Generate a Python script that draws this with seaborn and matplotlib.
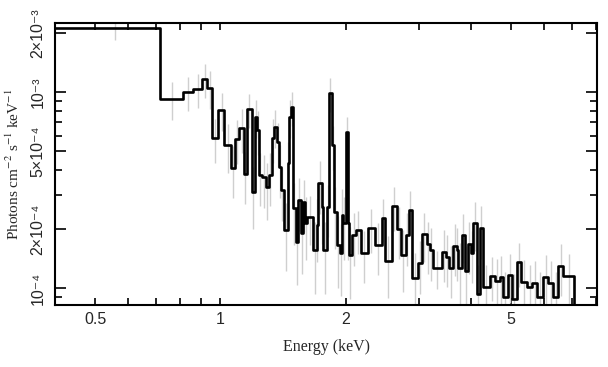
import matplotlib
matplotlib.use('Agg')
import matplotlib.pyplot as plt
import numpy as np
import pandas as pd
import seaborn as sns

# bin edges (keV)
edges = [0.4, 0.7166, 0.8144, 0.8608, 0.9050, 0.9304, 0.9566, 0.9890, 1.0225, 1.0629,
         1.0867, 1.1111, 1.1361, 1.1552, 1.1877, 1.2076, 1.2211, 1.2347, 1.2554, 1.2836,
         1.3051, 1.3271, 1.3419, 1.3644, 1.3796, 1.3950, 1.4184, 1.4502, 1.4583, 1.4745,
         1.4910, 1.5160, 1.5329, 1.5587, 1.5761, 1.5937, 1.6115, 1.6660, 1.7034, 1.7128,
         1.7513, 1.7610, 1.8006, 1.8207, 1.8512, 1.8719, 1.9033, 1.9353, 1.9569, 1.9678,
         2.0008, 2.0231, 2.0344, 2.0685, 2.1149, 2.1744, 2.2605, 2.3500, 2.4431, 2.4842,
         2.5826, 2.6553, 2.7148, 2.7912, 2.8381, 2.8858, 2.9836, 3.0504, 3.1362, 3.1888,
         3.2423, 3.4082, 3.4846, 3.5432, 3.6227, 3.7039, 3.7245, 3.8080, 3.8719, 3.9369,
         4.0030, 4.0477, 4.1386, 4.2081, 4.2788, 4.4480, 4.5731, 4.7014, 4.7803, 4.9147,
         5.0251, 5.1665, 5.2824, 5.4613, 5.6151, 5.7730, 5.9684, 6.1361, 6.3096, 6.4871,
         6.6695, 7.0893]

# flux per bin in units of 1e-3 photons cm^-2 s^-1 keV^-1
flux = [2.121, 0.921, 1.000, 1.036, 1.165, 1.048, 0.582, 0.809, 0.537, 0.410,
        0.576, 0.655, 0.382, 0.819, 0.309, 0.746, 0.640, 0.377, 0.368, 0.328,
        0.377, 0.582, 0.663, 0.556, 0.414, 0.316, 0.198, 0.434, 0.746, 0.838,
        0.256, 0.172, 0.281, 0.191, 0.275, 0.215, 0.230, 0.156, 0.210, 0.343,
        0.259, 0.156, 0.259, 0.988, 0.537, 0.244, 0.166, 0.151, 0.236, 0.215,
        0.625, 0.215, 0.147, 0.186, 0.198, 0.151, 0.202, 0.166, 0.228, 0.137,
        0.262, 0.200, 0.147, 0.186, 0.250, 0.1124, 0.134, 0.189, 0.168, 0.156,
        0.1265, 0.153, 0.144, 0.1265, 0.164, 0.156, 0.1265, 0.186, 0.122, 0.168,
        0.151, 0.215, 0.0932, 0.202, 0.1012, 0.1151, 0.1086, 0.1138, 0.0900, 0.1165,
        0.0879, 0.1358, 0.1073, 0.1012, 0.1060, 0.0900, 0.1138, 0.1060, 0.0900, 0.1295,
        0.1151]

# relative 1-sigma error per bin (estimated from the grey bars)
frac_err = [0.13,
            0.22, 0.20, 0.20, 0.20, 0.22,
            0.25, 0.22, 0.28, 0.30, 0.25, 0.25, 0.30, 0.20, 0.35,
            0.22, 0.25, 0.30, 0.30, 0.32, 0.30, 0.25, 0.22, 0.25, 0.30,
            0.30, 0.38, 0.28, 0.22, 0.20,
            0.35, 0.40, 0.30, 0.38, 0.30, 0.35, 0.28, 0.40, 0.35, 0.30,
            0.35, 0.40, 0.30, 0.20, 0.25, 0.35, 0.40, 0.40, 0.35, 0.35,
            0.20, 0.35, 0.40, 0.30, 0.25, 0.30, 0.25, 0.30, 0.25, 0.35,
            0.25, 0.30, 0.35, 0.30, 0.25, 0.35, 0.30, 0.28, 0.30, 0.30,
            0.22, 0.30, 0.30, 0.30, 0.30, 0.30, 0.35, 0.28, 0.35, 0.30,
            0.30, 0.28, 0.40, 0.30, 0.30, 0.25, 0.30, 0.28, 0.35, 0.28,
            0.35, 0.25, 0.30, 0.30, 0.30, 0.35, 0.30, 0.30, 0.35, 0.30,
            0.30]

x_ticks = [0.5, 1, 2, 5]
x_ticklabels = ['0.5', '1', '2', '5']
x_minor = [0.6, 0.7, 0.8, 0.9, 3, 4, 6, 7, 8]
y_ticks = [1e-4, 2e-4, 5e-4, 1e-3, 2e-3]
y_ticklabels = ['10⁻⁴', '2×10⁻⁴', '5×10⁻⁴', '10⁻³', '2×10⁻³']
y_minor = [9e-5, 3e-4, 4e-4, 6e-4, 7e-4, 8e-4, 9e-4]

sns.set_theme(style='ticks')
plt.rcParams['font.family'] = ['Liberation Sans', 'DejaVu Sans']

e = np.array(edges)
f = np.array(flux) * 1e-3
err = f * np.array(frac_err)
centers = 0.5 * (e[:-1] + e[1:])

# step outline: steps-post through the edges, then drop to the floor at the end
df = pd.DataFrame({'energy': list(e) + [e[-1]],
                   'flux': list(f) + [f[-1], 1e-6]})

fig = plt.figure(figsize=(6.08, 3.67), dpi=100)
ax = fig.add_axes([0.0905, 0.169, 0.8915, 0.768])

ax.vlines(centers, f - err, f + err, color='#cfcfcf', lw=1, zorder=1)
sns.lineplot(data=df, x='energy', y='flux', drawstyle='steps-post', sort=False,
             estimator=None, color='black', lw=1.9, ax=ax, zorder=3)

ax.set_xscale('log')
ax.set_yscale('log')
ax.set_xlim(0.4, 8.05)
ax.set_ylim(8.2e-5, 2.25e-3)

ax.set_xticks(x_ticks)
ax.set_xticklabels(x_ticklabels, fontsize=11.5)
ax.set_xticks(x_minor, minor=True)
ax.set_xticklabels([], minor=True)
ax.set_yticks(y_ticks)
ax.set_yticklabels(y_ticklabels, fontsize=11.5, rotation=90, va='center')
ax.set_yticks(y_minor, minor=True)
ax.set_yticklabels([], minor=True)

ax.tick_params(which='both', direction='in', top=True, right=True, color='black', width=1.2)
ax.tick_params(axis='x', which='major', length=5, pad=5)
ax.tick_params(axis='x', which='minor', length=5)
ax.tick_params(axis='y', which='major', length=8, pad=7)
ax.tick_params(axis='y', which='minor', length=5)
for sp in ax.spines.values():
    sp.set_linewidth(1.5)
    sp.set_color('black')

ax.set_xlabel('Energy (keV)', family='Liberation Serif', fontsize=11.5, labelpad=9)
ax.set_ylabel('Photons cm$^{-2}$ s$^{-1}$ keV$^{-1}$', family='Liberation Serif',
              math_fontfamily='stix', fontsize=11, labelpad=6)

fig.savefig('out.png', dpi=100)
